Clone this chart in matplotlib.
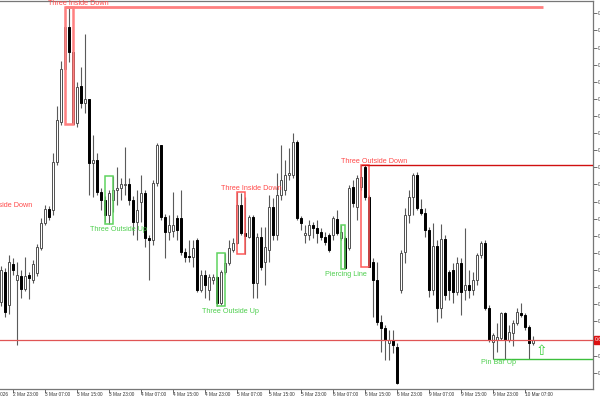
import numpy as np
import matplotlib
matplotlib.use("Agg")
import matplotlib.pyplot as plt
from matplotlib.patches import Rectangle
from matplotlib.transforms import blended_transform_factory

# ---------------- data (H1 candles, 2 Mar 20:00 .. 10 Mar 09:00) ----------------
opens = [0.6698,0.6728,0.6695,0.6736,0.6720,0.6724,0.6711,0.6725,0.6720,0.6727,
         0.6752,0.6777,0.6791,0.6790,0.6838,0.6878,0.6931,0.6973,0.6948,0.6877,
         0.6914,0.6897,0.6901,0.6837,0.6840,0.6808,0.6800,0.6785,0.6800,0.6810,
         0.6812,0.6815,0.6816,0.6800,0.6778,0.6798,0.6807,0.6762,0.6760,0.6817,
         0.6855,0.6783,0.6768,0.6769,0.6782,0.6782,0.6748,0.6744,0.6743,0.6760,
         0.6710,0.6725,0.6710,0.6720,0.6723,0.6697,0.6728,0.6737,0.6750,0.6757,
         0.6795,0.6767,0.6763,0.6783,0.6717,0.6763,0.6738,0.6750,0.6793,0.6765,
         0.6805,0.6810,0.6825,0.6825,0.6858,0.6782,0.6765,0.6765,0.6775,0.6772,
         0.6768,0.6763,0.6765,0.6765,0.6781,0.6762,0.6762,0.6752,0.6813,0.6793,
         0.6813,0.6833,0.6803,0.6738,0.6720,0.6678,0.6672,0.6657,0.6660,0.6653,
         0.6710,0.6748,0.6785,0.6803,0.6825,0.6791,0.6787,0.6770,0.6710,0.6754,
         0.6692,0.6761,0.6728,0.6730,0.6708,0.6737,0.6710,0.6715,0.6710,0.6720,
         0.6745,0.6757,0.6692,0.6658,0.6660,0.6662,0.6687,0.6660,0.6667,0.6677,
         0.6687,0.6685,0.6673,0.6657]
highs = [0.6734,0.6732,0.6745,0.6742,0.6738,0.6730,0.6743,0.6728,0.6740,0.6756,
         0.6782,0.6795,0.6794,0.6847,0.6894,0.6939,0.6993,0.6993,0.6948,0.6918,
         0.6933,0.6966,0.6901,0.6865,0.6847,0.6812,0.6804,0.6810,0.6824,0.6833,
         0.6822,0.6853,0.6822,0.6804,0.6810,0.6825,0.6810,0.6765,0.6820,0.6857,
         0.6855,0.6786,0.6785,0.6808,0.6785,0.6810,0.6752,0.6760,0.6760,0.6762,
         0.6730,0.6730,0.6726,0.6726,0.6724,0.6730,0.6747,0.6760,0.6762,0.6808,
         0.6807,0.6803,0.6785,0.6785,0.6767,0.6773,0.6773,0.6805,0.6802,0.6827,
         0.6855,0.6840,0.6852,0.6867,0.6860,0.6784,0.6775,0.6780,0.6778,0.6780,
         0.6772,0.6768,0.6767,0.6784,0.6790,0.6775,0.6764,0.6815,0.6820,0.6825,
         0.6835,0.6835,0.6805,0.6742,0.6738,0.6685,0.6675,0.6670,0.6670,0.6657,
         0.6750,0.6792,0.6810,0.6827,0.6828,0.6801,0.6792,0.6773,0.6777,0.6760,
         0.6776,0.6765,0.6730,0.6737,0.6743,0.6742,0.6772,0.6730,0.6728,0.6747,
         0.6759,0.6760,0.6695,0.6667,0.6677,0.6688,0.6688,0.6675,0.6680,0.6692,
         0.6697,0.6687,0.6675,0.6664]
lows = [0.6694,0.6683,0.6686,0.6725,0.6655,0.6702,0.6709,0.6701,0.6717,0.6724,
        0.6750,0.6775,0.6780,0.6785,0.6835,0.6875,0.6930,0.6938,0.6876,0.6873,
        0.6892,0.6887,0.6805,0.6803,0.6805,0.6790,0.6778,0.6776,0.6788,0.6795,
        0.6800,0.6805,0.6795,0.6765,0.6760,0.6778,0.6753,0.6720,0.6755,0.6814,
        0.6780,0.6742,0.6760,0.6763,0.6760,0.6745,0.6738,0.6738,0.6733,0.6708,
        0.6708,0.6702,0.6700,0.6716,0.6694,0.6695,0.6726,0.6735,0.6748,0.6756,
        0.6765,0.6746,0.6762,0.6702,0.6702,0.6730,0.6715,0.6738,0.6760,0.6760,
        0.6800,0.6805,0.6820,0.6822,0.6780,0.6770,0.6757,0.6760,0.6762,0.6757,
        0.6760,0.6755,0.6748,0.6760,0.6765,0.6760,0.6731,0.6750,0.6793,0.6780,
        0.6810,0.6800,0.6733,0.6683,0.6675,0.6648,0.6640,0.6640,0.6647,0.6616,
        0.6707,0.6737,0.6777,0.6785,0.6790,0.6785,0.6763,0.6703,0.6705,0.6678,
        0.6682,0.6700,0.6700,0.6697,0.6705,0.6685,0.6700,0.6702,0.6705,0.6715,
        0.6742,0.6690,0.6658,0.6641,0.6648,0.6660,0.6641,0.6658,0.6654,0.6675,
        0.6683,0.6670,0.6641,0.6655]
closes = [0.6730,0.6688,0.6738,0.6730,0.6725,0.6711,0.6724,0.6722,0.6736,0.6753,
          0.6777,0.6791,0.6783,0.6838,0.6880,0.6931,0.6973,0.6948,0.6876,0.6913,
          0.6897,0.6901,0.6837,0.6840,0.6808,0.6800,0.6785,0.6807,0.6810,0.6812,
          0.6816,0.6816,0.6800,0.6778,0.6790,0.6807,0.6762,0.6760,0.6817,0.6855,
          0.6783,0.6768,0.6775,0.6775,0.6770,0.6748,0.6743,0.6743,0.6752,0.6710,
          0.6725,0.6715,0.6723,0.6723,0.6697,0.6728,0.6737,0.6752,0.6757,0.6795,
          0.6767,0.6764,0.6783,0.6717,0.6763,0.6733,0.6753,0.6793,0.6765,0.6805,
          0.6820,0.6825,0.6827,0.6858,0.6782,0.6777,0.6767,0.6775,0.6772,0.6767,
          0.6763,0.6758,0.6750,0.6782,0.6767,0.6768,0.6732,0.6812,0.6797,0.6822,
          0.6823,0.6803,0.6733,0.6720,0.6678,0.6672,0.6660,0.6660,0.6655,0.6617,
          0.6747,0.6785,0.6803,0.6825,0.6792,0.6787,0.6770,0.6710,0.6754,0.6692,
          0.6761,0.6705,0.6710,0.6708,0.6737,0.6708,0.6715,0.6710,0.6720,0.6745,
          0.6757,0.6692,0.6660,0.6665,0.6663,0.6687,0.6660,0.6668,0.6677,0.6688,
          0.6685,0.6673,0.6657,0.6660]

date_tick_index = [3, 11, 19, 27, 35, 43, 51, 59, 67, 75, 83, 91, 99, 107, 115, 123, 131]
date_tick_labels = ["2 Mar 23:00", "3 Mar 07:00", "3 Mar 15:00", "3 Mar 23:00",
                    "4 Mar 07:00", "4 Mar 15:00", "4 Mar 23:00", "5 Mar 07:00",
                    "5 Mar 15:00", "5 Mar 23:00", "6 Mar 07:00", "6 Mar 15:00",
                    "6 Mar 23:00", "9 Mar 07:00", "9 Mar 15:00", "9 Mar 23:00",
                    "10 Mar 07:00"]
price_ticks = [0.69867 - 0.001712 * k for k in range(22)]

# candlestick patterns: name, first bar, last bar, bullish?
pattern_names = ["Three Inside Down", "Three Outside Up", "Three Outside Up",
                 "Three Inside Down", "Piercing Line", "Three Outside Down"]
pattern_start = [16, 26, 54, 59, 85, 90]
pattern_end = [18, 28, 56, 61, 86, 92]
pattern_bull = [False, True, True, False, True, False]
pattern_label_at = [19.3, 29.4, 57.4, 62.5, 86.3, 93.3]

# --------------------------------------------------------------------------------
plt.rcParams['font.family'] = ['Liberation Sans', 'DejaVu Sans']
fig = plt.figure(figsize=(6, 4), dpi=100)
ax = fig.add_axes([0.0, 11 / 400, 593 / 600, 388 / 400])

o = np.array(opens); h = np.array(highs); l = np.array(lows); c = np.array(closes)
x = np.arange(len(o))
bull = c >= o

ax.vlines(x, l, h, color='#5a5a5a', lw=0.8, zorder=2)
body_lo = np.minimum(o, c)
body_h = np.maximum(np.abs(c - o), 0.00004)
ax.bar(x, body_h, bottom=body_lo, width=0.62,
       color=np.where(bull, 'white', 'black'),
       edgecolor=np.where(bull, '#505050', 'black'), linewidth=0.7, zorder=3)

RED_T = '#ff4a4a'
GREEN_T = '#4fcf4f'
for name, s, e, b, lab in zip(pattern_names, pattern_start, pattern_end,
                              pattern_bull, pattern_label_at):
    top = h[s:e + 1].max()
    bot = l[s:e + 1].min()
    col = '#5fd35f' if b else '#ff5a5a'
    lw = 1.1 if s != 16 else 1.8
    ec = col if s != 16 else '#ff8080'
    ax.add_patch(Rectangle((s, bot), e - s, top - bot, fill=False, ec=ec,
                           lw=lw, zorder=4))
    if b:
        ax.annotate(name, (lab, bot), xytext=(0, -1.5), textcoords='offset points',
                    ha='center', va='top', fontsize=5.2, color=GREEN_T, zorder=6)
    else:
        ax.annotate(name, (lab, top), xytext=(0, 0.3), textcoords='offset points',
                    ha='center', va='bottom', fontsize=5.2, color=RED_T, zorder=6)

# off-chart (left) pattern label
ax.text(7.8, 0.6794, "Three Outside Down", ha='right', va='center', fontsize=5.2,
        color=RED_T, zorder=6)

# level lines
ax.hlines(h[16:19].max(), 16, 135.5, color='#ff8080', lw=2.0, zorder=4)
ax.hlines(h[90:93].max(), 90, 148, color='#d01010', lw=1.0, zorder=4)
ax.hlines(l[123], 123, 148, color='#3cbf3c', lw=1.0, zorder=4)
ax.text(124.3, l[123], "Pin Bar Up", ha='center', va='top', fontsize=5.2,
        color=GREEN_T, zorder=6)
ax.text(135, l[123] + 0.0001, "\u21e7", ha='center', va='bottom', fontsize=10,
        color='#3ccf3c', family='DejaVu Sans', zorder=6)

# bid line
ax.axhline(closes[-1], color='#e05555', lw=0.9, zorder=4)
tr = blended_transform_factory(ax.transAxes, ax.transData)
ax.text(1.003, closes[-1], "%.4f" % closes[-1], transform=tr, ha='left', va='center',
        fontsize=3.6, color='white', zorder=7, clip_on=False,
        bbox=dict(boxstyle='square,pad=0.25', fc='#dd1111', ec='#dd1111'))

ax.text(1.75, -0.007, "2 Mar 2026", transform=blended_transform_factory(ax.transData, ax.transAxes),
        ha='right', va='top', fontsize=3.4, color='#333333', clip_on=False)

ax.set_xlim(-0.25, 148)
ax.set_ylim(0.6611, 0.6999)

ax.yaxis.tick_right()
ax.set_yticks(price_ticks)
# the tick hidden behind the bid-price box gets no label
ax.set_yticklabels(["" if abs(p - closes[-1]) < 0.0009 else "%.4f" % p
                    for p in price_ticks])
ax.tick_params(axis='y', length=3, width=0.6, color='#555555', labelsize=3.4,
               labelcolor='#444444', pad=0.8)
ax.set_xticks(date_tick_index)
ax.set_xticklabels(date_tick_labels)
ax.tick_params(axis='x', length=3, width=0.6, color='#555555', labelsize=3.4,
               labelcolor='#333333', pad=-0.5)
for t in ax.get_xticklabels():
    t.set_ha('left')

for sp in ['top', 'right', 'bottom']:
    ax.spines[sp].set_color('#777777')
    ax.spines[sp].set_linewidth(0.9)
ax.spines['left'].set_visible(False)

fig.savefig('out.png', dpi=100, facecolor='white')
